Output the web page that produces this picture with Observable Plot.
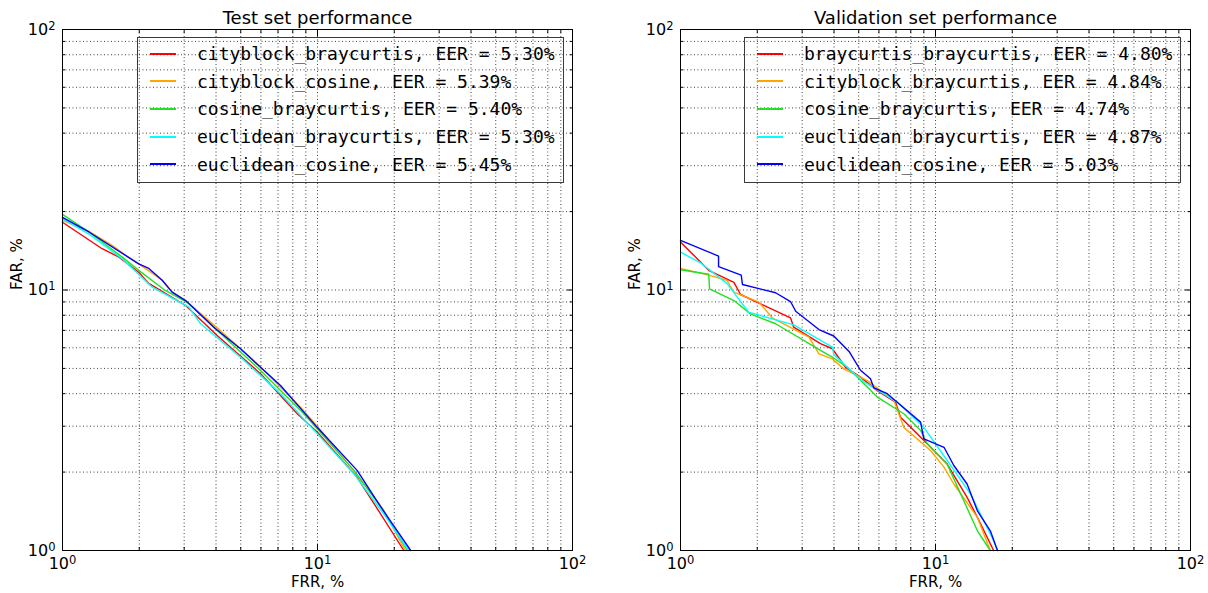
<!DOCTYPE html>
<html>
<head>
<meta charset="utf-8">
<script src="https://cdn.jsdelivr.net/npm/d3@7"></script>
<script src="https://cdn.jsdelivr.net/npm/@observablehq/plot@0.6"></script>
<style>
  html, body { margin: 0; padding: 0; background: #fff; }
  #wrap { position: relative; width: 1208px; height: 593px; background: #fff; }
  .panel { position: absolute; top: 0; }
  .legend {
    position: absolute; top: 37px; box-sizing: border-box;
    border: 1px solid #3a3a3a; padding: 2px 8px 4px 0;
    font-family: "DejaVu Sans Mono", monospace; font-size: 18px; color: #000;
  }
  .legend .row { display: flex; align-items: center; height: 27.6px; white-space: pre; }
  .legend .sw { display: inline-block; width: 26px; height: 2px; margin-left: 12px; margin-right: 21px; }
</style>
</head>
<body>
<div id="wrap"></div>
<script>
// ROC-style curves: false acceptance rate vs false rejection rate, both in %.
const panelTitles = ["Test set performance", "Validation set performance"];
const xLabel = "FRR, %";
const yLabel = "FAR, %";

const testNames = ["cityblock_braycurtis", "cityblock_cosine", "cosine_braycurtis", "euclidean_braycurtis", "euclidean_cosine"];
const testEER = [5.30, 5.39, 5.40, 5.30, 5.45];

const valNames = ["braycurtis_braycurtis", "cityblock_braycurtis", "cosine_braycurtis", "euclidean_braycurtis", "euclidean_cosine"];
const valEER = [4.80, 4.84, 4.74, 4.87, 5.03];

// [FRR %, FAR %] pairs
const testCityblockBraycurtis = [[1,18.2],[1.43,14.4],[1.66,13.4],[1.99,11.7],[2.18,10.6],[3.04,8.72],[4.04,6.69],[5.98,4.77],[8.33,3.35],[9.97,2.85],[14.3,1.91],[17.7,1.38],[21.8,1.0]];
const testCityblockCosine = [[1,18.5],[1.27,16.8],[1.57,14.8],[1.77,13.6],[1.99,12.6],[2.46,10.9],[2.69,9.85],[3.04,9.1],[3.98,7.25],[4.99,5.95],[5.98,5.05],[8.58,3.55],[9.97,3.0],[14.0,2.0],[18.0,1.45],[22.1,1.0]];
const testCosineBraycurtis = [[1,19.5],[1.27,16.7],[1.71,13.4],[1.99,11.9],[2.53,9.96],[3.13,8.88],[3.92,7.2],[5.98,4.91],[8.58,3.45],[9.97,2.93],[13.9,2.03],[18.2,1.42],[22.5,1.0]];
const testEuclideanBraycurtis = [[1,18.8],[1.27,16.4],[1.71,13.2],[1.99,11.5],[2.25,10.25],[3.13,8.59],[3.48,7.42],[4.99,5.52],[7.16,4.0],[9.97,2.81],[13.9,1.97],[18.2,1.38],[22.8,1.0]];
const testEuclideanCosine = [[1,19.0],[1.27,16.7],[1.99,12.6],[2.18,12.1],[2.46,10.9],[2.69,9.81],[3.04,9.11],[3.95,7.15],[4.99,5.95],[5.98,5.05],[7.16,4.3],[9.97,2.97],[14.3,2.03],[17.7,1.47],[23.2,1.0]];

const valBraycurtisBraycurtis = [[1,15.3],[1.29,11.9],[1.62,10.7],[1.72,9.61],[2.70,7.82],[2.78,7.2],[3.54,6.22],[3.94,5.95],[4.44,5.05],[5.08,4.63],[5.91,4.11],[6.97,3.71],[7.29,3.25],[9.28,2.57],[11.1,2.15],[13.3,1.6],[14.6,1.34],[16.9,1.0]];
const valCityblockBraycurtis = [[1,12.1],[1.29,11.4],[1.52,10.9],[1.62,9.81],[2.03,8.98],[2.29,7.82],[3.19,6.59],[3.49,5.69],[3.94,5.44],[4.37,4.98],[5.4,4.49],[6.86,3.77],[7.51,2.97],[9.56,2.42],[10.8,2.09],[11.8,1.8],[14.6,1.34],[16.4,1.0]];
const valCosineBraycurtis = [[1,11.96],[1.29,11.5],[1.30,10.1],[1.62,9.11],[1.88,8.10],[2.36,7.42],[3.54,5.86],[3.94,5.52],[4.51,5.05],[5.91,3.88],[7.51,3.35],[8.74,2.89],[9.28,2.57],[11.1,2.15],[14.6,1.19],[16.4,1.0]];
const valEuclideanBraycurtis = [[1,13.97],[1.2,12.7],[1.52,10.6],[1.85,8.22],[2.78,7.35],[3.94,6.03],[3.99,5.65],[5.1,4.52],[7.08,3.71],[9.0,2.97],[11.1,2.22],[13.7,1.65],[16.9,1.09],[17.5,1.0]];
const valEuclideanCosine = [[1,15.5],[1.41,13.5],[1.41,12.3],[1.73,11.4],[1.75,10.5],[2.36,9.76],[2.70,9.03],[2.83,8.29],[3.49,7.05],[3.99,6.66],[4.6,5.78],[5.08,4.92],[5.56,4.56],[5.73,4.21],[6.47,4.0],[7.08,3.71],[8.74,3.11],[9.0,2.68],[10.8,2.49],[11.8,2.12],[13.3,1.8],[14.6,1.42],[16.4,1.19],[17.5,1.0]];

const majorTicks = [1, 10, 100];
const minorTicks = [2, 3, 4, 5, 6, 7, 8, 9, 20, 30, 40, 50, 60, 70, 80, 90];

const palette = ["#ff0000", "#ffa500", "#22e022", "#00ffff", "#0000ff"];

const panels = [
  {title: panelTitles[0], names: testNames, eer: testEER,
   series: [testCityblockBraycurtis, testCityblockCosine, testCosineBraycurtis, testEuclideanBraycurtis, testEuclideanCosine],
   left: 0, marginLeft: 62, marginRight: 32, legendLeft: 137},
  {title: panelTitles[1], names: valNames, eer: valEER,
   series: [valBraycurtisBraycurtis, valCityblockBraycurtis, valCosineBraycurtis, valEuclideanBraycurtis, valEuclideanCosine],
   left: 604, marginLeft: 76, marginRight: 18, legendLeft: 744}
];

const wrap = document.getElementById("wrap");

// tick labels are written as "10^k"; turned into a raised exponent after rendering
const powerLabel = d => "10^" + Math.round(Math.log10(d));

function raiseExponents(svg) {
  svg.querySelectorAll('g[aria-label$="tick label"] text').forEach(t => {
    const m = /^10\^(\d+)$/.exec(t.textContent);
    if (!m) return;
    t.textContent = "10";
    const sup = document.createElementNS("http://www.w3.org/2000/svg", "tspan");
    sup.setAttribute("dy", "-0.42em");
    sup.setAttribute("font-size", "0.72em");
    sup.textContent = m[1];
    t.appendChild(sup);
  });
}

for (const p of panels) {
  const gridStyle = {stroke: "#000", strokeOpacity: 0.75, strokeDasharray: "1,2.5", strokeWidth: 1};
  const allTicks = majorTicks.concat(minorTicks);
  const marks = [
    Plot.gridX(allTicks, gridStyle),
    Plot.gridY(allTicks, gridStyle),
    ...p.series.map((s, i) => Plot.line(s, {x: d => d[0], y: d => d[1], stroke: palette[i], strokeWidth: 1.4})),
    // inward ticks on all four sides
    Plot.axisX({anchor: "bottom", ticks: majorTicks, tickSize: -6, fill: "none", label: null}),
    Plot.axisX({anchor: "top", ticks: majorTicks, tickSize: -6, fill: "none", label: null}),
    Plot.axisY({anchor: "left", ticks: majorTicks, tickSize: -6, fill: "none", label: null}),
    Plot.axisY({anchor: "right", ticks: majorTicks, tickSize: -6, fill: "none", label: null}),
    Plot.axisX({anchor: "bottom", ticks: minorTicks, tickSize: -3, fill: "none", label: null}),
    Plot.axisX({anchor: "top", ticks: minorTicks, tickSize: -3, fill: "none", label: null}),
    Plot.axisY({anchor: "left", ticks: minorTicks, tickSize: -3, fill: "none", label: null}),
    Plot.axisY({anchor: "right", ticks: minorTicks, tickSize: -3, fill: "none", label: null}),
    // tick labels
    Plot.axisX({anchor: "bottom", ticks: majorTicks, tickSize: 0, tickPadding: 7, tickFormat: powerLabel, label: null, fontSize: 16}),
    Plot.axisY({anchor: "left", ticks: majorTicks, tickSize: 0, tickPadding: 7, tickFormat: powerLabel, label: null, fontSize: 16}),
    Plot.frame({stroke: "#000", strokeWidth: 1}),
    Plot.text([p.title], {text: d => d, frameAnchor: "top", dy: -11, lineAnchor: "middle", fontSize: 18}),
    Plot.text([xLabel], {text: d => d, frameAnchor: "bottom", dy: 32, lineAnchor: "middle", fontSize: 15}),
    Plot.text([yLabel], {text: d => d, frameAnchor: "left", dx: -45, rotate: -90, lineAnchor: "middle", fontSize: 15})
  ];
  const chart = Plot.plot({
    width: 604,
    height: 593,
    marginTop: 29,
    marginBottom: 43,
    marginLeft: p.marginLeft,
    marginRight: p.marginRight,
    x: {type: "log", domain: [1, 100]},
    y: {type: "log", domain: [1, 100]},
    style: {fontFamily: "DejaVu Sans, sans-serif", fontSize: "14px", background: "white", color: "black"},
    marks
  });
  raiseExponents(chart);
  const holder = document.createElement("div");
  holder.className = "panel";
  holder.style.left = p.left + "px";
  holder.appendChild(chart);
  wrap.appendChild(holder);

  // legend box inside the axes, upper right
  const lg = document.createElement("div");
  lg.className = "legend";
  lg.style.left = p.legendLeft + "px";
  p.names.forEach((name, i) => {
    const row = document.createElement("div");
    row.className = "row";
    const sw = document.createElement("span");
    sw.className = "sw";
    sw.style.background = palette[i];
    const tx = document.createElement("span");
    tx.textContent = `${name}, EER = ${p.eer[i].toFixed(2)}%`;
    row.appendChild(sw);
    row.appendChild(tx);
    lg.appendChild(row);
  });
  wrap.appendChild(lg);
}
</script>
</body>
</html>
